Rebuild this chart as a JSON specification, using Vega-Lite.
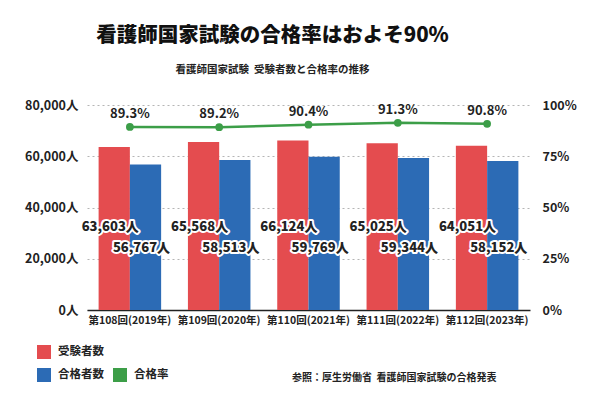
{
  "$schema": "https://vega.github.io/schema/vega-lite/v6.json",
  "width": 443,
  "height": 205,
  "autosize": {"type": "none"},
  "padding": {"left": 87, "top": 105, "right": 70, "bottom": 90},
  "background": "white",
  "config": {"font": "Noto Sans CJK JP", "view": {"stroke": null}},
  "title": {
    "text": "看護師国家試験の合格率はおよそ90%",
    "subtitle": "看護師国家試験\u00a0\u00a0受験者数と合格率の推移",
    "fontSize": 20.5,
    "fontWeight": 900,
    "color": "#111",
    "subtitleFontSize": 10.5,
    "subtitleFontWeight": "bold",
    "subtitleColor": "#222",
    "subtitlePadding": 18,
    "anchor": "middle",
    "frame": "group",
    "dx": -36,
    "offset": 24
  },
  "data": {
    "values": [
      {"回": "第108回(2019年)", "受験者数": 63603, "合格者数": 56767, "合格率": 89.3},
      {"回": "第109回(2020年)", "受験者数": 65568, "合格者数": 58513, "合格率": 89.2},
      {"回": "第110回(2021年)", "受験者数": 66124, "合格者数": 59769, "合格率": 90.4},
      {"回": "第111回(2022年)", "受験者数": 65025, "合格者数": 59344, "合格率": 91.3},
      {"回": "第112回(2023年)", "受験者数": 64051, "合格者数": 58152, "合格率": 90.8}
    ]
  },
  "transform": [
    {"fold": ["受験者数", "合格者数"], "as": ["key", "value"]},
    {"calculate": "format(datum.value, ',') + '人'", "as": "label"},
    {"calculate": "format(datum['合格率'], '.1f') + '%'", "as": "pctLabel"}
  ],
  "encoding": {
    "x": {
      "field": "回",
      "type": "nominal",
      "sort": null,
      "scale": {"paddingInner": 0.3, "paddingOuter": 0.13},
      "axis": {
        "title": "参照：厚生労働省\u00a0\u00a0看護師国家試験の合格発表",
        "labelAngle": 0,
        "labelFontSize": 10.5,
        "labelFontWeight": "bold",
        "labelColor": "#222",
        "labelPadding": 5,
        "ticks": false,
        "domainColor": "#222",
        "domainWidth": 1.5,
        "titleFontSize": 10,
        "titleFontWeight": "bold",
        "titleColor": "#222",
        "titleX": 409,
        "titleY": 67,
        "titleAlign": "right",
        "titleBaseline": "middle"
      }
    }
  },
  "layer": [
    {
      "layer": [
        {
          "mark": {"type": "bar"},
          "encoding": {
            "xOffset": {"field": "key", "type": "nominal", "sort": ["受験者数", "合格者数"], "scale": {"paddingInner": 0}},
            "y": {
              "field": "value",
              "type": "quantitative",
              "scale": {"domain": [0, 80000], "nice": false},
              "axis": {
                "title": null,
                "values": [0, 20000, 40000, 60000, 80000],
                "labelExpr": "format(datum.value, ',') + '人'",
                "labelFontSize": 12.5,
                "labelFontWeight": "bold",
                "labelColor": "#222",
                "labelPadding": 9,
                "domain": false,
                "ticks": false,
                "gridDash": [2, 3],
                "gridColor": "#b5b5b5"
              }
            },
            "color": {
              "field": "key",
              "type": "nominal",
              "scale": {"domain": ["受験者数", "合格者数"], "range": ["#e44c4f", "#2c6bb5"]},
              "legend": {
                "title": null,
                "orient": "none",
                "legendX": -50,
                "legendY": 240,
                "direction": "vertical",
                "symbolType": "square",
                "symbolSize": 196,
                "symbolStrokeWidth": 0,
                "labelFontSize": 11.5,
                "labelFontWeight": "bold",
                "labelColor": "#222",
                "rowPadding": 9,
                "labelOffset": 7,
                "padding": 0
              }
            }
          }
        },
        {
          "transform": [{"filter": "datum.key == '受験者数'"}],
          "mark": {"type": "text", "fontSize": 13, "fontWeight": 900, "stroke": "white", "strokeWidth": 4, "strokeJoin": "round", "fill": "white", "dx": -4},
          "encoding": {
            "xOffset": {"field": "key", "type": "nominal", "sort": ["受験者数", "合格者数"]},
            "y": {"datum": 32300, "type": "quantitative"},
            "text": {"field": "label"}
          }
        },
        {
          "transform": [{"filter": "datum.key == '受験者数'"}],
          "mark": {"type": "text", "fontSize": 13, "fontWeight": 900, "fill": "#222", "dx": -4},
          "encoding": {
            "xOffset": {"field": "key", "type": "nominal", "sort": ["受験者数", "合格者数"]},
            "y": {"datum": 32300, "type": "quantitative"},
            "text": {"field": "label"}
          }
        },
        {
          "transform": [{"filter": "datum.key == '合格者数'"}],
          "mark": {"type": "text", "fontSize": 13, "fontWeight": 900, "stroke": "white", "strokeWidth": 4, "strokeJoin": "round", "fill": "white", "dx": -4},
          "encoding": {
            "xOffset": {"field": "key", "type": "nominal", "sort": ["受験者数", "合格者数"]},
            "y": {"datum": 24200, "type": "quantitative"},
            "text": {"field": "label"}
          }
        },
        {
          "transform": [{"filter": "datum.key == '合格者数'"}],
          "mark": {"type": "text", "fontSize": 13, "fontWeight": 900, "fill": "#222", "dx": -4},
          "encoding": {
            "xOffset": {"field": "key", "type": "nominal", "sort": ["受験者数", "合格者数"]},
            "y": {"datum": 24200, "type": "quantitative"},
            "text": {"field": "label"}
          }
        }
      ]
    },
    {
      "transform": [{"filter": "datum.key == '受験者数'"}],
      "encoding": {
        "y": {
          "field": "合格率",
          "type": "quantitative",
          "scale": {"domain": [0, 100], "nice": false},
          "axis": {
            "orient": "right",
            "title": null,
            "values": [0, 25, 50, 75, 100],
            "labelExpr": "datum.value + '%'",
            "labelFontSize": 12.5,
            "labelFontWeight": "bold",
            "labelColor": "#222",
            "labelPadding": 12,
            "domain": false,
            "ticks": false,
            "grid": false
          }
        }
      },
      "layer": [
        {
          "mark": {"type": "line", "strokeWidth": 2.5},
          "encoding": {
            "color": {
              "datum": "合格率",
              "scale": {"range": ["#3c9e48"]},
              "legend": {
                "title": null,
                "orient": "none",
                "legendX": 26,
                "legendY": 263,
                "symbolType": "square",
                "symbolSize": 196,
                "symbolFillColor": "#3c9e48",
                "symbolStrokeWidth": 0,
                "labelFontSize": 11.5,
                "labelFontWeight": "bold",
                "labelColor": "#222",
                "labelOffset": 7,
                "padding": 0
              }
            }
          }
        },
        {
          "mark": {"type": "point", "filled": true, "size": 60, "opacity": 1},
          "encoding": {"color": {"datum": "合格率"}}
        },
        {
          "mark": {"type": "text", "dy": -13, "fontSize": 13, "fontWeight": "bold", "fill": "#222"},
          "encoding": {"text": {"field": "pctLabel"}}
        }
      ]
    }
  ],
  "resolve": {"scale": {"y": "independent", "color": "independent"}}
}
